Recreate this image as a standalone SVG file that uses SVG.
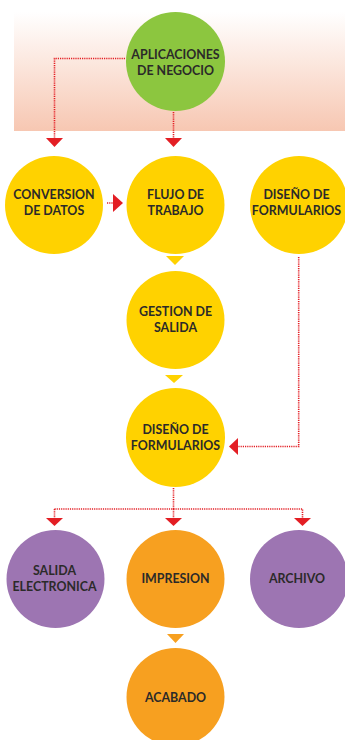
<svg xmlns="http://www.w3.org/2000/svg" width="345" height="740" viewBox="0 0 345 740">
<defs>
<linearGradient id="bg" x1="0" y1="0" x2="0" y2="1">
<stop offset="0" stop-color="#ffffff"/>
<stop offset="1" stop-color="#f7c7b2"/>
</linearGradient>
</defs>
<style>
text{font-family:"Lato","Open Sans","Liberation Sans",sans-serif;font-weight:bold;font-size:12.4px;fill:#2b2a29;text-anchor:middle}
.g{fill:#8cc63f}.y{fill:#ffd200}.p{fill:#9d75b2}.o{fill:#f7a020}
.c{fill:none;stroke:#e31e24;stroke-width:1.6;stroke-dasharray:1.2 1}
.ah{fill:#e31e24}.yt{fill:#ffd200}.ot{fill:#f7a020}
</style>
<rect x="14" y="12" width="331" height="119" fill="url(#bg)"/>
<g id="connectors">
<path class="c" d="M125 58.5H54.5V138"/>
<path class="c" d="M173.5 112V138"/>
<path class="ah" d="M46 138H63L54.5 147Z"/>
<path class="ah" d="M165 138H182L173.5 147Z"/>
<path class="c" d="M107 203H113"/>
<path class="ah" d="M113 194L123 203L113 212Z"/>
<path class="yt" d="M166 256H184L175 265Z"/>
<path class="yt" d="M165 375H183L174 383Z"/>
<path class="c" d="M298.7 257V446.5H238"/>
<path class="ah" d="M238 438V455L229 446.5Z"/>
<path class="c" d="M173.5 488V509"/>
<path class="c" d="M54.5 509H302.5V518"/>
<path class="c" d="M54.5 509V518"/>
<path class="c" d="M173.5 509V518"/>
<path class="ah" d="M46 518H63L54.5 526Z"/>
<path class="ah" d="M165 518H182L173.5 526Z"/>
<path class="ah" d="M294 518H311L302.5 526Z"/>
<path class="ot" d="M167 634H184L175.5 643Z"/>
</g>
<g id="aplicaciones"><circle class="g" cx="175.5" cy="61.5" r="49.5"/><text x="175.5" y="58.5">APLICACIONES</text><text x="175.5" y="74.5">DE NEGOCIO</text></g>
<g id="conversion"><circle class="y" cx="54" cy="205" r="49"/><text x="54" y="198.5">CONVERSION</text><text x="54" y="214.5">DE DATOS</text></g>
<g id="flujo"><circle class="y" cx="175.5" cy="205" r="49"/><text x="175.5" y="198.5">FLUJO DE</text><text x="175.5" y="214.5">TRABAJO</text></g>
<g id="diseno1"><circle class="y" cx="299" cy="205" r="49"/><text x="296.5" y="198.5">DISEÑO DE</text><text x="296.5" y="214.5">FORMULARIOS</text></g>
<g id="gestion"><circle class="y" cx="175.5" cy="320" r="49"/><text x="175.5" y="315.5">GESTION DE</text><text x="175.5" y="331.5">SALIDA</text></g>
<g id="diseno2"><circle class="y" cx="175.5" cy="437.5" r="49.5"/><text x="175.5" y="433.5">DISEÑO DE</text><text x="175.5" y="449.5">FORMULARIOS</text></g>
<g id="salida"><circle class="p" cx="55.5" cy="579" r="49"/><text x="54.5" y="574.5">SALIDA</text><text x="54.5" y="590.5">ELECTRONICA</text></g>
<g id="impresion"><circle class="o" cx="175.5" cy="579" r="49"/><text x="175.5" y="582.5">IMPRESION</text></g>
<g id="archivo"><circle class="p" cx="299" cy="579" r="49"/><text x="297" y="582.5">ARCHIVO</text></g>
<g id="acabado"><circle class="o" cx="175.5" cy="697" r="49"/><text x="175.5" y="701.5">ACABADO</text></g>
</svg>
